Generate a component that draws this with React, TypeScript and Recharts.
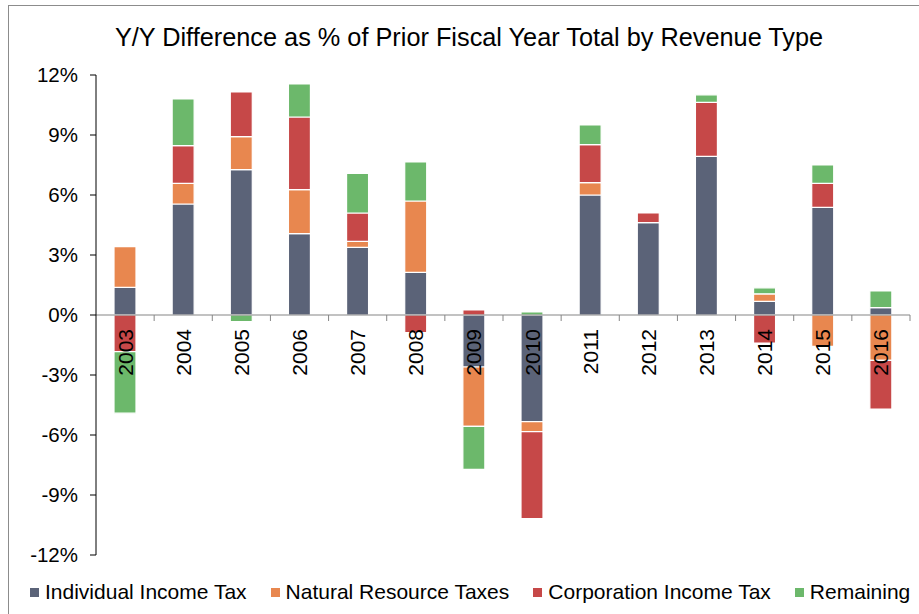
import React from 'react'
import { BarChart, Bar, XAxis, YAxis, ReferenceLine } from 'recharts'

const years = ['2003', '2004', '2005', '2006', '2007', '2008', '2009', '2010', '2011', '2012', '2013', '2014', '2015', '2016']

// values in % of prior fiscal year total
const individual = [1.38, 5.55, 7.27, 4.07, 3.38, 2.13, -2.6, -5.33, 6.0, 4.62, 7.93, 0.68, 5.38, 0.37]
const naturalResource = [2.04, 1.03, 1.65, 2.2, 0.3, 3.57, -2.97, -0.5, 0.62, 0, 0, 0.38, -1.57, -2.27]
const corporation = [-1.83, 1.89, 2.23, 3.63, 1.42, -0.88, 0.25, -4.35, 1.9, 0.48, 2.7, -1.4, 1.2, -2.43]
const remaining = [-3.08, 2.33, -0.33, 1.65, 1.98, 1.95, -2.15, 0.15, 0.98, 0, 0.38, 0.3, 0.92, 0.83]

const yTicks = [-12, -9, -6, -3, 0, 3, 6, 9, 12]

const series = [
  { key: 'individual', name: 'Individual Income Tax', color: '#5b6378' },
  { key: 'natural', name: 'Natural Resource Taxes', color: '#e8874f' },
  { key: 'corporation', name: 'Corporation Income Tax', color: '#c64848' },
  { key: 'remaining', name: 'Remaining', color: '#6cb86b' },
]

const data = years.map((year, i) => ({
  year,
  individual: individual[i],
  natural: naturalResource[i],
  corporation: corporation[i],
  remaining: remaining[i],
}))

const FONT = '"Liberation Sans", Arial, sans-serif'

// category labels + boundary ticks hung off the zero line
function YearLabels(props: any) {
  const vb = props.viewBox
  if (!vb) return null
  const band = vb.width / years.length
  return (
    <g>
      {years.map((year, i) => {
        const cx = vb.x + band * (i + 0.5)
        const tx = vb.x + band * (i + 1)
        const ty = vb.y + 14
        return (
          <g key={year}>
            <line x1={tx} y1={vb.y} x2={tx} y2={vb.y + 6} stroke="#868686" strokeWidth={1} />
            <text
              x={cx}
              y={ty}
              transform={`rotate(-90 ${cx} ${ty})`}
              textAnchor="end"
              dominantBaseline="central"
              fontSize={21}
              fill="#000"
              fontFamily={FONT}
            >
              {year}
            </text>
          </g>
        )
      })}
    </g>
  )
}

export default function App(): React.ReactElement {
  return (
    <div
      style={{
        position: 'absolute',
        left: 0,
        top: 0,
        width: 919,
        height: 614,
        overflow: 'hidden',
        background: '#fff',
        fontFamily: FONT,
      }}
    >
      <div
        style={{
          position: 'absolute',
          left: 8,
          top: 5,
          width: 1000,
          height: 700,
          border: '1px solid #8c8c8c',
        }}
      />
      <div
        style={{
          position: 'absolute',
          left: 0,
          top: 23,
          width: 938,
          textAlign: 'center',
          fontSize: 25.3,
          color: '#000',
        }}
      >
        Y/Y Difference as % of Prior Fiscal Year Total by Revenue Type
      </div>
      <div style={{ position: 'absolute', left: 0, top: 0 }}>
        <BarChart
          width={919}
          height={614}
          data={data}
          stackOffset="sign"
          margin={{ top: 75, right: 9, bottom: 59, left: 0 }}
          barSize={22}
        >
          <XAxis dataKey="year" hide />
          <YAxis
            domain={[-12, 12]}
            ticks={yTicks}
            tickFormatter={(v: number) => `${v}%`}
            width={96}
            tickSize={6}
            tickMargin={12}
            axisLine={{ stroke: '#000' }}
            tickLine={{ stroke: '#000' }}
            tick={{ fill: '#000', fontSize: 20.5, fontFamily: FONT }}
            interval={0}
          />
          {series.map((s) => (
            <Bar
              key={s.key}
              dataKey={s.key}
              name={s.name}
              stackId="rev"
              fill={s.color}
              stroke="#fff"
              strokeWidth={1.2}
              isAnimationActive={false}
            />
          ))}
          <ReferenceLine y={0} stroke="#868686" strokeWidth={1.2} label={(p: any) => <YearLabels {...p} />} />
        </BarChart>
      </div>
      <div
        style={{
          position: 'absolute',
          left: 30,
          top: 580,
          display: 'flex',
          alignItems: 'center',
          fontSize: 21,
          color: '#000',
          whiteSpace: 'nowrap',
        }}
      >
        {series.map((s) => (
          <div key={s.key} style={{ display: 'flex', alignItems: 'center', marginRight: 24 }}>
            <span style={{ width: 9, height: 9, background: s.color, marginRight: 6, display: 'inline-block' }} />
            <span>{s.name}</span>
          </div>
        ))}
      </div>
    </div>
  )
}
